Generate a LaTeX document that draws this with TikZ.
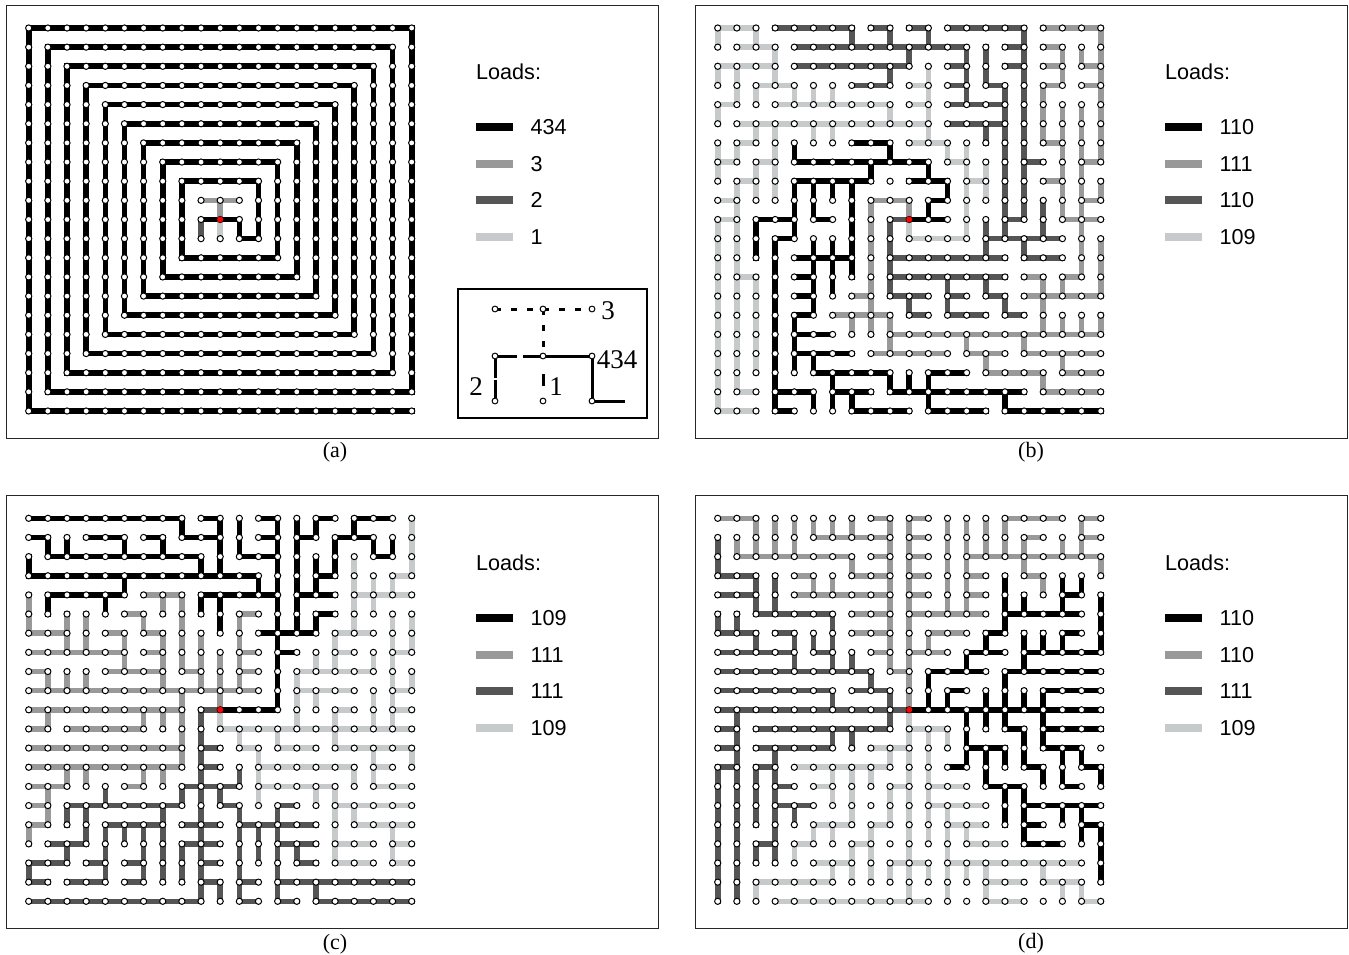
\documentclass[tikz,border=0pt]{standalone}
\usepackage{fontspec}
\setmainfont{Liberation Serif}
\setsansfont{Liberation Sans}
\usetikzlibrary{backgrounds}
\definecolor{loadmid}{RGB}{153,153,153}
\definecolor{loaddark}{RGB}{85,85,85}
\definecolor{loadlight}{RGB}{198,202,202}
\tikzset{
  vertex/.style={circle,draw=black,fill=white,line width=1pt,inner sep=0pt,minimum size=6.2pt},
  rootvertex/.style={circle,fill=red,inner sep=0pt,minimum size=6pt},
  tiny vertex/.style={circle,draw=black,fill=white,line width=1pt,inner sep=0pt,minimum size=5.8pt},
  wire/.style={line width=5.6pt,line cap=rect},
  swatch/.style={line width=7.5pt},
  panelbox/.style={draw=black!85,line width=0.9pt},
  legendtext/.style={font=\sffamily\fontsize{21.6}{22}\selectfont,anchor=west,inner sep=0pt},
  captext/.style={font=\fontsize{22}{22}\selectfont},
  insettext/.style={font=\fontsize{27}{27}\selectfont},
  insetline/.style={line width=3pt,black}
}
\newcommand{\gridpanel}[3]{% name, left, top
  \foreach \c in {0,...,20}{\foreach \r in {0,...,20}{
    \node[vertex] (#1-\c-\r) at ({#2+19.15*\c},{#3+19.15*\r}) {};
  }}
  \node[rootvertex] (#1-root) at (#1-10-10) {};
}
\newcommand{\wires}[3]{% panel, colour, segments
  \begin{scope}[on background layer]
    \foreach \p/\q in {#3}{\draw[wire,#2] (#1-\p.center) -- (#1-\q.center);}
  \end{scope}
}
\newcommand{\loadkey}[6]{% name, left, top, three values
  \node[legendtext] (#1-title) at (#2,#3) {Loads:};
  \draw[swatch,black] (#2,#3+55) -- ++(37,0);
  \draw[swatch,loadmid] (#2,#3+92) -- ++(37,0);
  \draw[swatch,loaddark] (#2,#3+128) -- ++(37,0);
  \draw[swatch,loadlight] (#2,#3+165) -- ++(37,0);
  \node[legendtext] (#1-one) at (#2+54.5,#3+55) {#4};
  \node[legendtext] (#1-two) at (#2+54.5,#3+92) {#5};
  \node[legendtext] (#1-three) at (#2+54.5,#3+128) {#6};
}
\begin{document}
\begin{tikzpicture}[x=1pt,y=-1pt]
\useasboundingbox (0,0) rectangle (1349,955);
% frames
\draw[panelbox] (6,5) rectangle (658,438);
\draw[panelbox] (695,5) rectangle (1347,438);
\draw[panelbox] (6,495) rectangle (658,928);
\draw[panelbox] (695,495) rectangle (1347,928);
\node[captext] (cap-a) at (335,452) {(a)};
\node[captext] (cap-b) at (1031,452) {(b)};
\node[captext] (cap-c) at (335,944) {(c)};
\node[captext] (cap-d) at (1031,943) {(d)};
% grids
\gridpanel{a}{28.7}{28}
\gridpanel{b}{717.7}{28}
\gridpanel{c}{28.7}{518.3}
\gridpanel{d}{717.7}{518.3}
% keys
\loadkey{ka}{476}{72}{434}{3}{2}
\node[legendtext] (ka-four) at (530.5,237) {1};
\loadkey{kb}{1165}{72}{110}{111}{110}
\node[legendtext] (kb-four) at (1219.5,237) {109};
\loadkey{kc}{476}{563}{109}{111}{111}
\node[legendtext] (kc-four) at (530.5,728) {109};
\loadkey{kd}{1165}{563}{110}{110}{111}
\node[legendtext] (kd-four) at (1219.5,728) {109};
% panel a
\wires{a}{black}{0-20/20-20,0-0/0-20,0-0/20-0,20-0/20-19,20-19/1-19,1-19/1-1,1-1/19-1,19-1/19-18,19-18/2-18,2-18/2-2,2-2/18-2,18-2/18-17,18-17/3-17,3-17/3-3,3-3/17-3,17-3/17-16,17-16/4-16,4-16/4-4,4-4/16-4,16-4/16-15,16-15/5-15,5-15/5-5,5-5/15-5,15-5/15-14,15-14/6-14,6-14/6-6,6-6/14-6,14-6/14-13,14-13/7-13,7-13/7-7,7-7/13-7,13-7/13-12,13-12/8-12,8-12/8-8,8-8/12-8,12-8/12-11,12-11/11-11,11-11/11-10,11-10/9-10}
\wires{a}{loadmid}{10-10/10-9,9-9/11-9}
\wires{a}{loaddark}{9-10/9-11}
\wires{a}{loadlight}{10-10/10-11}
% panel b
\wires{b}{loadlight}{0-0/2-0,0-0/0-1,2-0/2-1,1-1/3-1,3-1/3-3,0-2/3-2,0-2/0-3,1-2/1-4,2-3/4-3,2-3/2-4,4-3/4-4,5-3/5-4,6-3/6-4,0-4/1-4,0-4/0-5,3-4/9-4,9-4/9-5,1-5/11-5,11-2/11-6,10-3/11-3,10-4/11-4,10-6/12-6,12-6/12-7,12-7/13-7,2-5/2-6,3-5/3-9,5-5/5-6,6-5/6-6,1-6/2-6,0-6/0-8,1-6/1-7,0-7/1-7,2-7/3-7,1-8/2-8,1-8/1-10,2-7/2-9,0-9/1-9,0-10/1-10,0-10/0-20,0-20/2-20,1-10/1-19,1-13/2-13,2-13/2-18,1-19/2-19,10-10/10-11,10-11/13-11,13-6/13-11,13-8/14-8,14-7/14-9}
\wires{b}{loaddark}{3-0/7-0,8-0/9-0,7-0/7-1,9-0/9-1,4-1/13-1,10-1/10-2,4-2/10-2,9-2/9-3,7-3/9-3,9-10/10-10,9-10/9-14,9-12/15-12,9-13/15-13,9-14/11-14,10-14/10-15,10-15/11-15,14-10/14-12,14-11/18-11,15-3/15-11,15-10/16-10,16-0/16-10,12-0/16-0,15-1/16-1,15-2/16-2,14-1/14-3,14-3/15-3,12-4/15-4,12-5/15-5,14-5/14-6,13-1/13-4,12-2/13-2,12-3/13-3,10-0/11-0,11-0/11-1,16-7/17-7,17-9/17-11,16-11/16-12,16-12/18-12,14-14/15-14,14-13/14-14,15-14/15-15,15-15/16-15,12-13/12-15,12-14/13-14,12-15/14-15}
\wires{b}{loadmid}{8-9/10-9,8-9/8-16,10-9/10-10,7-14/8-14,6-15/9-15,7-15/7-16,9-15/9-17,9-16/20-16,8-17/12-17,17-0/20-0,20-0/20-7,17-1/18-1,18-1/18-3,17-2/18-2,19-1/19-2,19-2/20-2,19-3/20-3,17-3/18-3,17-3/17-6,17-6/18-6,18-4/18-10,18-10/20-10,19-4/19-13,19-7/20-7,17-8/18-8,19-9/20-9,20-8/20-9,20-11/20-14,18-13/19-13,18-13/18-14,16-14/20-14,16-13/17-13,17-13/17-16,18-15/18-16,19-15/19-16,20-15/20-16,13-16/13-17,13-17/15-17,14-17/14-18,14-18/17-18,16-16/16-17,16-17/20-17,18-17/18-18,18-18/20-18,17-18/17-19,17-19/20-19}
\wires{b}{black}{4-6/4-7,7-6/9-6,9-6/9-7,4-7/11-7,11-7/11-8,8-7/8-8,4-8/8-8,10-8/12-8,12-8/12-9,11-9/12-9,11-9/11-10,10-10/12-10,4-8/4-11,3-11/4-11,3-11/3-20,5-8/5-10,5-10/6-10,6-8/6-9,7-8/7-13,2-10/4-10,2-10/2-12,4-12/7-12,5-11/5-15,6-11/6-14,4-13/5-13,4-14/5-14,4-15/5-15,4-15/4-18,4-16/6-16,4-17/7-17,5-17/5-18,5-18/9-18,6-18/6-20,6-19/8-19,7-19/7-20,7-20/10-20,9-18/9-19,9-19/16-19,10-18/10-19,11-18/11-20,11-18/13-18,11-20/14-20,15-19/15-20,15-20/20-20,3-19/5-19,5-19/5-20,3-20/4-20}
% panel c
\wires{c}{black}{0-0/8-0,8-0/8-1,8-1/10-1,9-0/10-0,10-0/10-3,0-1/1-1,3-1/5-1,6-1/7-1,1-1/1-2,2-1/2-2,5-1/5-2,7-1/7-2,1-2/9-2,0-2/0-3,9-2/9-3,0-3/12-3,12-3/12-4,5-3/5-4,1-4/5-4,1-4/1-5,4-4/4-5,9-4/13-4,9-4/9-5,10-4/10-6,12-0/13-0,13-0/13-10,10-10/13-10,11-0/11-2,11-2/13-2,12-1/13-1,14-0/14-6,14-1/15-1,15-0/15-1,15-0/16-0,17-0/19-0,17-0/17-1,16-1/18-1,16-1/16-3,18-1/18-2,18-2/19-2,19-1/19-2,15-2/15-4,15-3/16-3,14-4/16-4,15-5/16-5,15-5/15-6,12-6/15-6,13-7/14-7}
\wires{c}{loadlight}{20-0/20-3,19-3/20-3,19-3/19-4,17-4/20-4,17-2/17-6,16-6/18-6,18-3/18-5,16-6/16-8,16-7/17-7,15-7/15-8,14-8/18-8,18-7/18-8,14-8/14-9,14-9/17-9,14-9/14-11,15-9/15-10,18-9/18-11,19-5/19-11,19-7/20-7,20-5/20-7,20-8/20-9,19-9/20-9,16-10/17-10,19-10/20-10,10-10/10-11,10-11/20-11,11-11/11-12,11-12/12-12,12-12/12-15,12-13/17-13,17-13/17-14,12-14/16-14,15-14/15-15,16-14/16-18,13-11/13-12,13-12/15-12,16-10/16-12,16-12/20-12,18-12/18-14,20-12/20-13,18-13/19-13,18-14/20-14,16-15/20-15,17-15/17-16,17-16/20-16,19-16/19-18,16-17/18-17,19-17/20-17,16-18/18-18,19-18/20-18}
\wires{c}{loadmid}{11-5/11-9,11-5/12-5,11-7/12-7,11-8/12-8,0-9/12-9,10-7/10-10,6-4/8-4,7-4/7-5,8-4/8-8,8-8/9-8,9-6/9-9,0-4/0-6,0-6/2-6,2-5/2-7,3-5/3-7,0-7/5-7,5-5/6-5,6-5/6-6,6-6/7-6,4-6/5-6,5-6/5-8,6-7/7-7,7-6/7-9,4-8/7-8,0-8/1-8,1-8/1-9,2-8/2-9,3-8/3-9,8-9/8-10,0-10/8-10,1-10/1-11,0-11/1-11,2-11/6-11,6-10/6-11,7-10/7-11,8-10/8-13,0-12/8-12,0-13/8-13,2-13/2-14,3-13/3-14,6-13/6-14,7-13/7-14,0-14/2-14,5-14/6-14,1-14/1-16,0-15/1-15,0-16/1-16,0-16/0-17}
\wires{c}{loaddark}{9-10/10-10,9-10/9-20,9-12/10-12,9-13/10-13,8-14/11-14,8-14/8-15,2-15/8-15,10-14/10-15,10-15/11-15,11-13/11-14,11-15/11-20,8-16/10-16,11-16/15-16,2-15/2-16,3-15/3-17,1-17/3-17,2-17/2-18,0-18/2-18,0-18/0-19,0-19/1-19,4-14/4-15,4-16/7-16,4-16/4-19,3-18/4-18,2-19/4-19,5-16/5-17,6-16/6-19,5-18/6-18,5-19/6-19,7-15/7-19,0-20/9-20,8-17/8-19,8-17/10-17,9-18/10-18,9-19/10-19,10-19/10-20,13-15/14-15,13-15/13-20,12-16/12-18,13-17/15-17,14-17/14-18,14-18/15-18,11-19/12-19,13-19/20-19,15-19/15-20,15-20/20-20,11-20/12-20,13-20/14-20}
% panel d
\wires{d}{loadmid}{0-0/2-0,2-0/2-2,3-0/3-2,4-0/4-2,5-0/5-1,6-0/6-1,7-0/7-1,5-1/9-1,8-0/9-0,9-0/9-8,9-8/10-8,10-0/10-10,10-0/11-0,10-1/11-1,10-2/11-2,10-3/11-3,10-4/11-4,10-5/14-5,10-7/12-7,11-6/13-6,11-6/11-7,1-1/1-2,1-2/7-2,7-2/7-3,7-3/9-3,8-2/9-2,4-3/5-3,5-3/5-4,6-3/6-4,4-4/9-4,7-5/9-5,7-6/9-6,8-7/9-7,12-0/12-5,13-0/13-5,14-0/14-2,15-0/15-2,15-0/18-0,13-2/20-2,13-3/14-3,13-4/14-4,16-1/16-3,16-1/17-1,16-3/17-3,17-3/17-4,18-1/18-2,19-0/19-2,19-0/20-0,19-1/20-1,20-2/20-3}
\wires{d}{loaddark}{0-1/0-3,0-3/2-3,2-3/2-5,0-4/2-4,3-3/3-5,2-5/6-5,6-5/6-8,0-8/8-8,8-8/8-9,7-9/9-9,9-9/9-10,0-10/10-10,0-5/0-6,1-5/1-6,0-6/2-6,2-6/2-7,0-7/4-7,3-6/4-6,4-6/4-8,5-6/5-7,5-7/6-7,7-7/7-8,0-9/6-9,6-9/6-10,1-10/1-20,0-11/1-11,0-12/1-12,0-13/1-13,0-13/0-20,9-10/9-11,2-11/9-11,6-11/6-12,7-11/7-12,2-12/6-12,3-12/3-18,2-13/3-13,2-13/2-16,3-14/4-14,3-15/5-15,4-15/4-16,2-17/3-17,2-17/2-18}
\wires{d}{loadlight}{10-10/10-20,10-11/12-11,11-11/11-17,12-11/12-12,8-12/10-12,9-12/9-13,4-13/9-13,6-13/6-15,7-13/7-16,8-13/8-14,5-14/6-14,9-14/10-14,9-14/9-16,8-16/9-16,8-16/8-19,5-16/7-16,5-16/5-17,6-16/6-17,4-17/5-17,4-17/4-18,7-17/8-17,7-17/7-19,5-18/7-18,6-18/6-19,2-19/6-19,2-19/2-20,3-20/11-20,9-18/11-18,9-18/9-19,11-18/11-19,11-14/13-14,11-15/14-15,12-15/12-20,12-16/14-16,13-16/13-17,13-17/15-17,12-18/19-18,13-18/13-19,14-18/14-20,14-19/16-19,14-20/16-20,17-18/17-19,17-19/19-19,18-19/18-20,19-19/19-20,19-20/20-20}
\wires{d}{black}{10-10/20-10,11-8/11-10,11-8/14-8,13-7/13-8,13-7/15-7,14-6/14-7,14-6/15-6,15-3/15-6,15-5/19-5,16-4/16-5,18-3/18-5,18-4/19-4,19-3/19-4,20-4/20-7,16-7/20-7,16-6/16-8,17-6/17-7,18-6/18-7,18-6/19-6,15-8/20-8,15-8/15-10,17-9/20-9,17-9/17-10,12-9/13-9,12-9/12-10,14-9/14-10,16-9/16-10,13-10/13-13,13-12/15-12,12-13/13-13,14-10/14-11,15-10/15-11,15-11/16-11,16-11/16-13,16-13/17-13,17-13/17-14,17-10/17-12,17-11/20-11,17-12/19-12,18-12/18-14,18-14/19-14,19-12/19-13,19-13/20-13,20-13/20-14,14-12/14-14,15-12/15-13,14-14/16-14,15-14/15-16,16-14/16-17,16-15/20-15,18-15/18-16,19-15/19-17,16-16/17-16,19-16/20-16,20-16/20-19,16-17/18-17}
% small example box
\draw[black,line width=1.6pt] (458,289) rectangle (647,418);
\node[tiny vertex] (ex-tl) at (495,309) {};
\node[tiny vertex] (ex-tm) at (543,309) {};
\node[tiny vertex] (ex-tr) at (592,309) {};
\node[tiny vertex] (ex-ml) at (495,356) {};
\node[tiny vertex] (ex-mm) at (543,356) {};
\node[tiny vertex] (ex-mr) at (592,356) {};
\node[tiny vertex] (ex-bl) at (495,401) {};
\node[tiny vertex] (ex-bm) at (543,401) {};
\node[tiny vertex] (ex-br) at (592,401) {};
\coordinate (ex-end) at (625,401);
\draw[insetline,dash pattern=on 6pt off 10pt,dash phase=3pt] (ex-tl) -- (ex-tm);
\draw[insetline,dash pattern=on 6pt off 10pt,dash phase=3pt] (ex-tm) -- (ex-tr);
\draw[insetline,dash pattern=on 6pt off 10pt,dash phase=3pt] (ex-tm) -- (ex-mm);
\draw[insetline,dash pattern=on 19pt off 6pt on 30pt off 10pt] (ex-ml) -- (ex-mm);
\draw[insetline] (ex-mm) -- (ex-mr) -- (ex-br) -- (ex-end);
\draw[insetline,dash pattern=on 19pt off 1.5pt on 30pt off 10pt] (ex-ml) -- (ex-bl);
\draw[insetline,dash pattern=on 0pt off 15pt on 12pt off 30pt] (ex-mm) -- (ex-bm);
\node[insettext] (ex-three) at (608,311) {3};
\node[insettext] (ex-load) at (617,360) {434};
\node[insettext] (ex-two) at (476,387) {2};
\node[insettext] (ex-one) at (556,387) {1};
\end{tikzpicture}
\end{document}
